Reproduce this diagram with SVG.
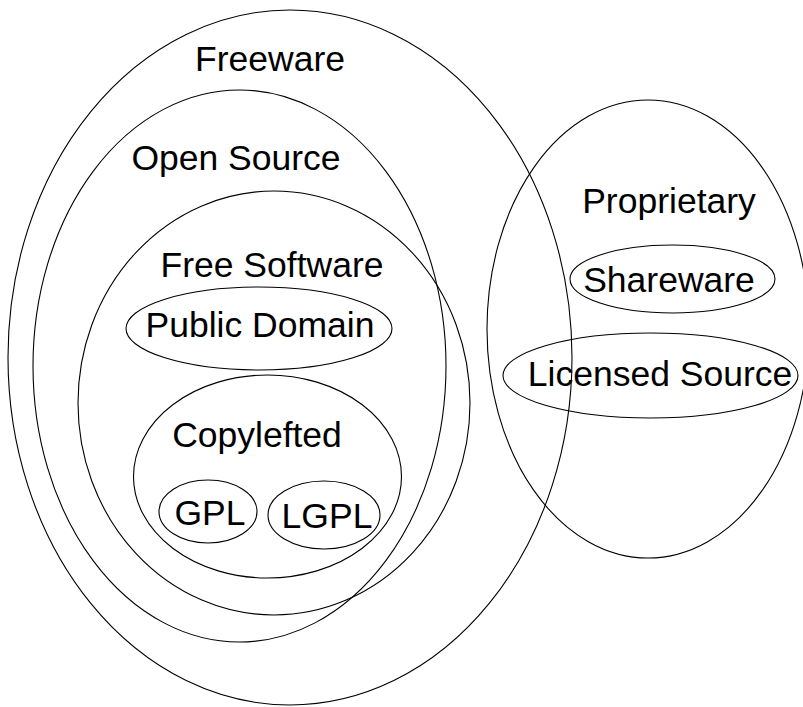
<svg xmlns="http://www.w3.org/2000/svg" width="803" height="707" viewBox="0 0 803 707">
  <style>
    .set { fill: none; stroke: #000; stroke-width: 1.1; }
    .label { font-family: "Liberation Sans", Arial, sans-serif; font-size: 35.5px; fill: #000; text-anchor: middle; }
  </style>
  <rect width="803" height="707" fill="#fff"/>

  <!-- Outer license families -->
  <g id="freeware">
    <ellipse class="set" cx="290" cy="357.5" rx="282" ry="347.5"/>
    <text class="label" x="270" y="71">Freeware</text>
  </g>
  <g id="open-source">
    <ellipse class="set" cx="239.5" cy="366" rx="206.5" ry="276"/>
    <text class="label" x="236" y="170">Open Source</text>
  </g>
  <g id="free-software">
    <ellipse class="set" cx="274" cy="403" rx="196" ry="212"/>
    <text class="label" x="272" y="277">Free Software</text>
  </g>
  <g id="public-domain">
    <ellipse class="set" cx="259" cy="328.5" rx="133" ry="41.5"/>
    <text class="label" x="260" y="337">Public Domain</text>
  </g>
  <g id="copylefted">
    <ellipse class="set" cx="267.5" cy="476.5" rx="134" ry="101.5"/>
    <text class="label" x="257" y="447">Copylefted</text>
  </g>
  <g id="gpl">
    <ellipse class="set" cx="208" cy="511.5" rx="49" ry="31.5"/>
    <text class="label" x="210" y="525">GPL</text>
  </g>
  <g id="lgpl">
    <ellipse class="set" cx="324" cy="515" rx="56" ry="34"/>
    <text class="label" x="327" y="528">LGPL</text>
  </g>

  <!-- Proprietary side -->
  <g id="proprietary">
    <ellipse class="set" cx="648" cy="329" rx="161" ry="229"/>
    <text class="label" x="669" y="213">Proprietary</text>
  </g>
  <g id="shareware">
    <ellipse class="set" cx="672.5" cy="279" rx="102.5" ry="34"/>
    <text class="label" x="669" y="292">Shareware</text>
  </g>
  <g id="licensed-source">
    <ellipse class="set" cx="650.5" cy="375.5" rx="147.5" ry="42.5"/>
    <text class="label" x="660" y="386">Licensed Source</text>
  </g>
</svg>
